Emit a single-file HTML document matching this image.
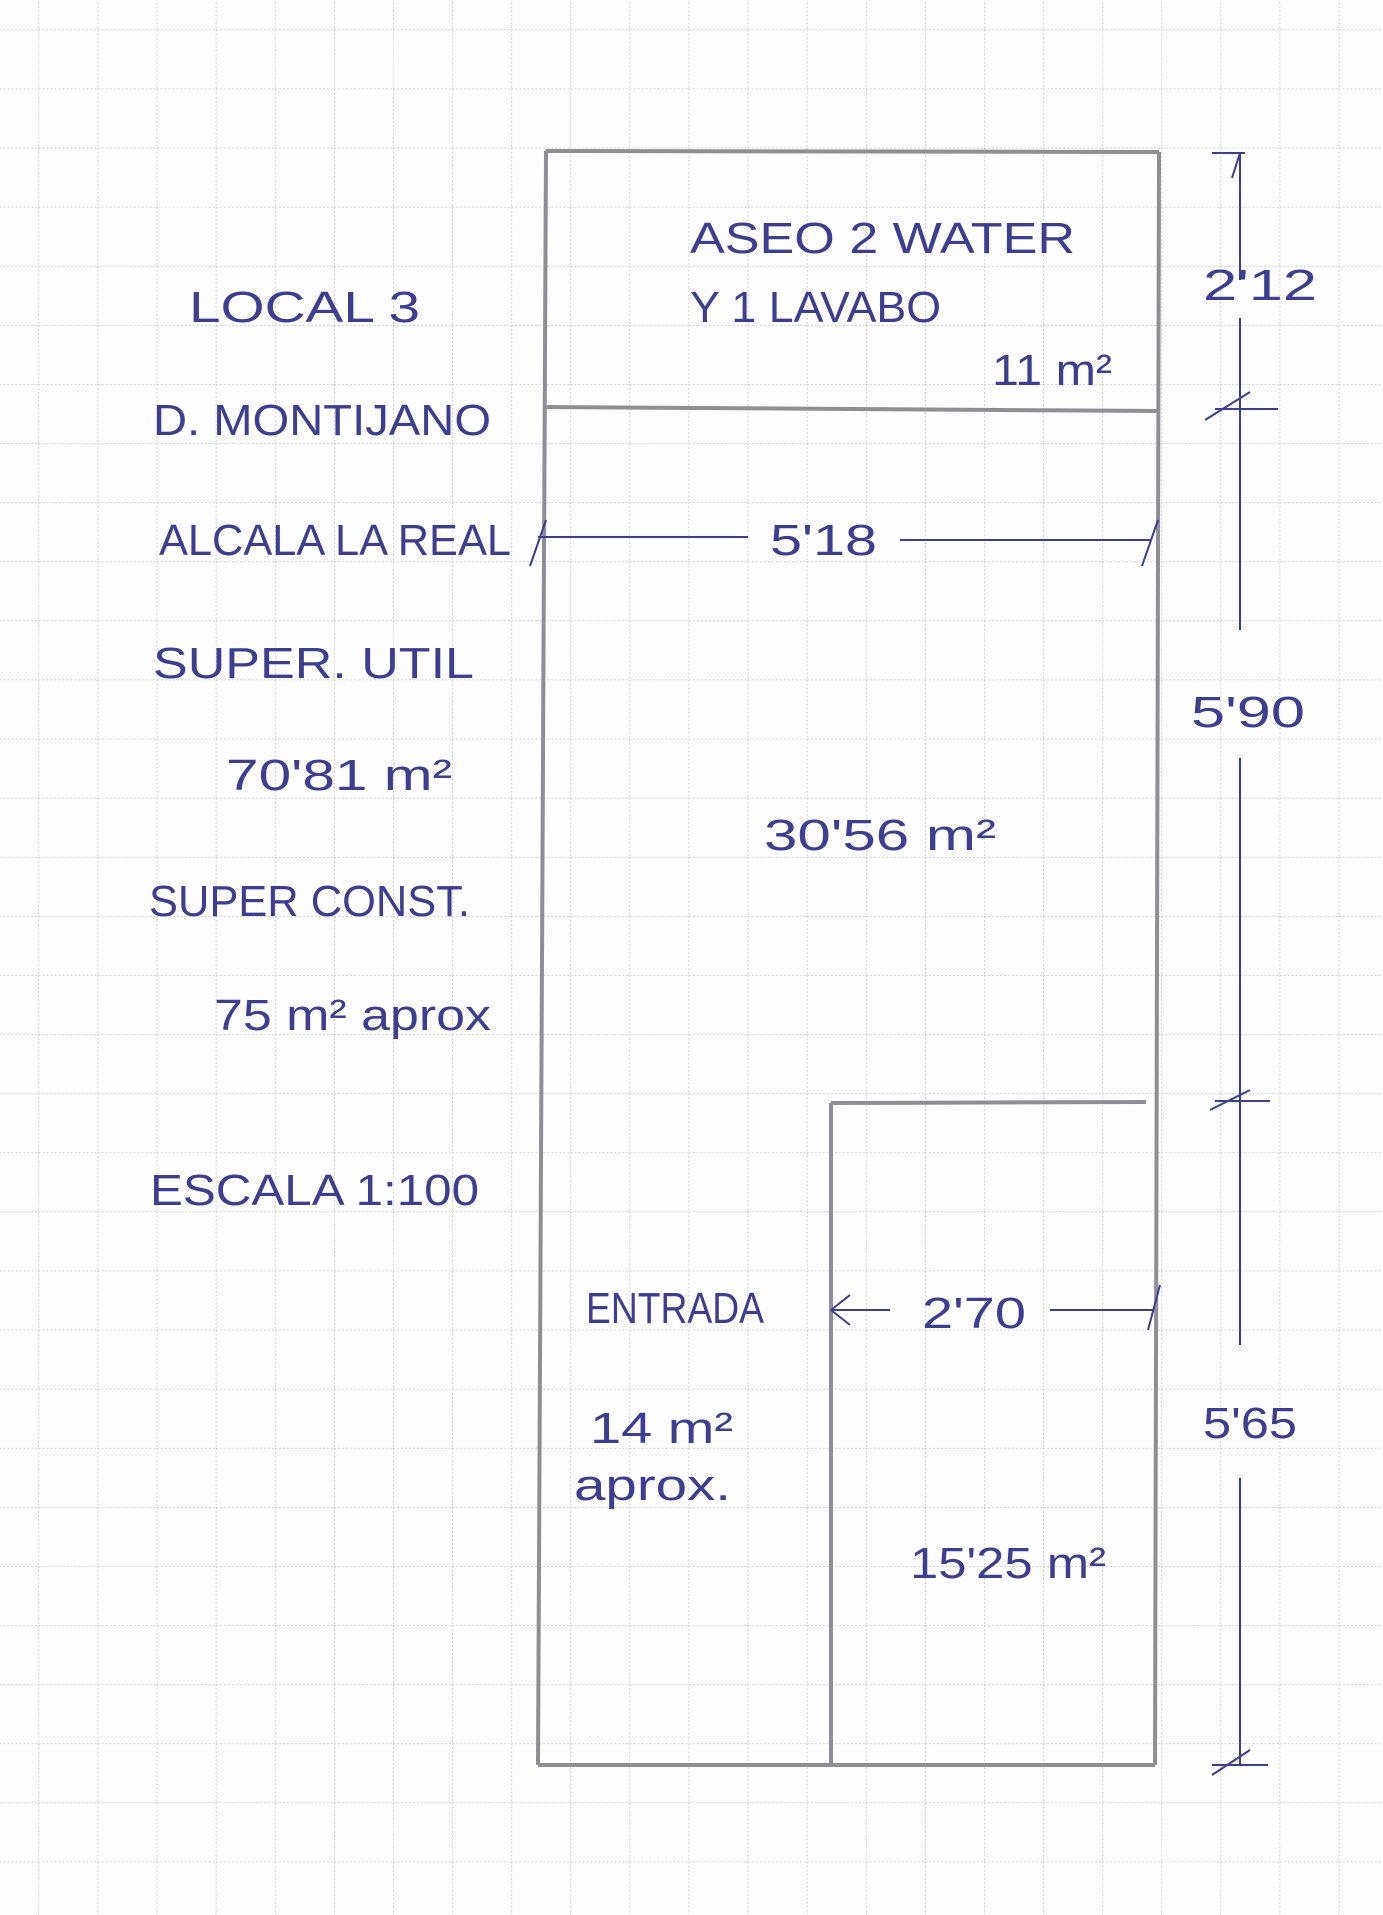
<!DOCTYPE html>
<html><head><meta charset="utf-8"><style>
html,body{margin:0;padding:0;background:#fff}
svg{display:block}
text{font-family:"Liberation Sans",sans-serif;fill:#3b3d96;font-size:44px}
</style></head><body>
<svg width="1383" height="1915" viewBox="0 0 1383 1915" xmlns="http://www.w3.org/2000/svg">
<defs>
<pattern id="g" x="38.5" y="29.5" width="59.1" height="59.1" patternUnits="userSpaceOnUse">
<path d="M0 0H59.1M0 0V59.1" stroke="#b8b8b8" stroke-width="1.3" stroke-dasharray="2 2" fill="none"/>
</pattern>
</defs>
<rect width="1383" height="1915" fill="#fdfdfd"/>
<rect width="1383" height="1915" fill="url(#g)"/>
<g stroke="#8e8e94" stroke-width="4" fill="none">
<path d="M546 151 L1159 152"/>
<path d="M546 151 L538 1765"/>
<path d="M1159 152 L1155 1765"/>
<path d="M538 1765 L1155 1765"/>
<path d="M544 407 L1158 411"/>
<path d="M831 1103 L1146 1102"/>
<path d="M831 1103 L831 1765"/>
</g>
<g stroke="#3b3d96" stroke-width="2" fill="none">
<path d="M1240 153 V280 M1240 318 V630 M1240 758 V1345 M1240 1478 V1765"/>
<path d="M1212 153 H1245 M1240 153 L1232 178"/>
<path d="M1205 420 L1250 392 M1215 409 H1278"/>
<path d="M1210 1110 L1250 1090 M1215 1101 H1270"/>
<path d="M1212 1775 L1250 1750 M1212 1765 H1268"/>
<path d="M538 537 H748 M900 540 H1150 M530 566 L546 520 M1142 566 L1158 520"/>
<path d="M831 1310 H890 M1050 1310 H1153 M831 1310 L850 1295 M831 1310 L850 1325 M1148 1330 L1160 1285"/>
</g>
<text x="189" y="322" textLength="231" lengthAdjust="spacingAndGlyphs">LOCAL 3</text>
<text x="153" y="435" textLength="338" lengthAdjust="spacingAndGlyphs" font-size="40">D. MONTIJANO</text>
<text x="159" y="555" textLength="352" lengthAdjust="spacingAndGlyphs" font-size="40">ALCALA LA REAL</text>
<text x="153" y="678" textLength="321" lengthAdjust="spacingAndGlyphs" font-size="40">SUPER. UTIL</text>
<text x="226" y="790" textLength="226" lengthAdjust="spacingAndGlyphs">70'81 m²</text>
<text x="149" y="916" textLength="321" lengthAdjust="spacingAndGlyphs" font-size="40">SUPER CONST.</text>
<text x="214" y="1030" textLength="277" lengthAdjust="spacingAndGlyphs">75 m² aprox</text>
<text x="150" y="1205" textLength="329" lengthAdjust="spacingAndGlyphs" font-size="40">ESCALA 1:100</text>
<text x="690" y="253" textLength="385" lengthAdjust="spacingAndGlyphs">ASEO 2 WATER</text>
<text x="690" y="322" textLength="251" lengthAdjust="spacingAndGlyphs" font-size="40">Y 1 LAVABO</text>
<text x="992" y="385" textLength="120" lengthAdjust="spacingAndGlyphs">11 m²</text>
<text x="764" y="850" textLength="232" lengthAdjust="spacingAndGlyphs">30'56 m²</text>
<text x="586" y="1323" textLength="178" lengthAdjust="spacingAndGlyphs" font-size="40">ENTRADA</text>
<text x="590" y="1443" textLength="143" lengthAdjust="spacingAndGlyphs">14 m²</text>
<text x="574" y="1500" textLength="157" lengthAdjust="spacingAndGlyphs" font-size="40">aprox.</text>
<text x="910" y="1578" textLength="196" lengthAdjust="spacingAndGlyphs">15'25 m²</text>
<text x="1203" y="300" textLength="114" lengthAdjust="spacingAndGlyphs">2'12</text>
<text x="770" y="555" textLength="107" lengthAdjust="spacingAndGlyphs">5'18</text>
<text x="1191" y="727" textLength="114" lengthAdjust="spacingAndGlyphs">5'90</text>
<text x="1203" y="1438" textLength="94" lengthAdjust="spacingAndGlyphs">5'65</text>
<text x="922" y="1328" textLength="104" lengthAdjust="spacingAndGlyphs">2'70</text>
</svg>
</body></html>
